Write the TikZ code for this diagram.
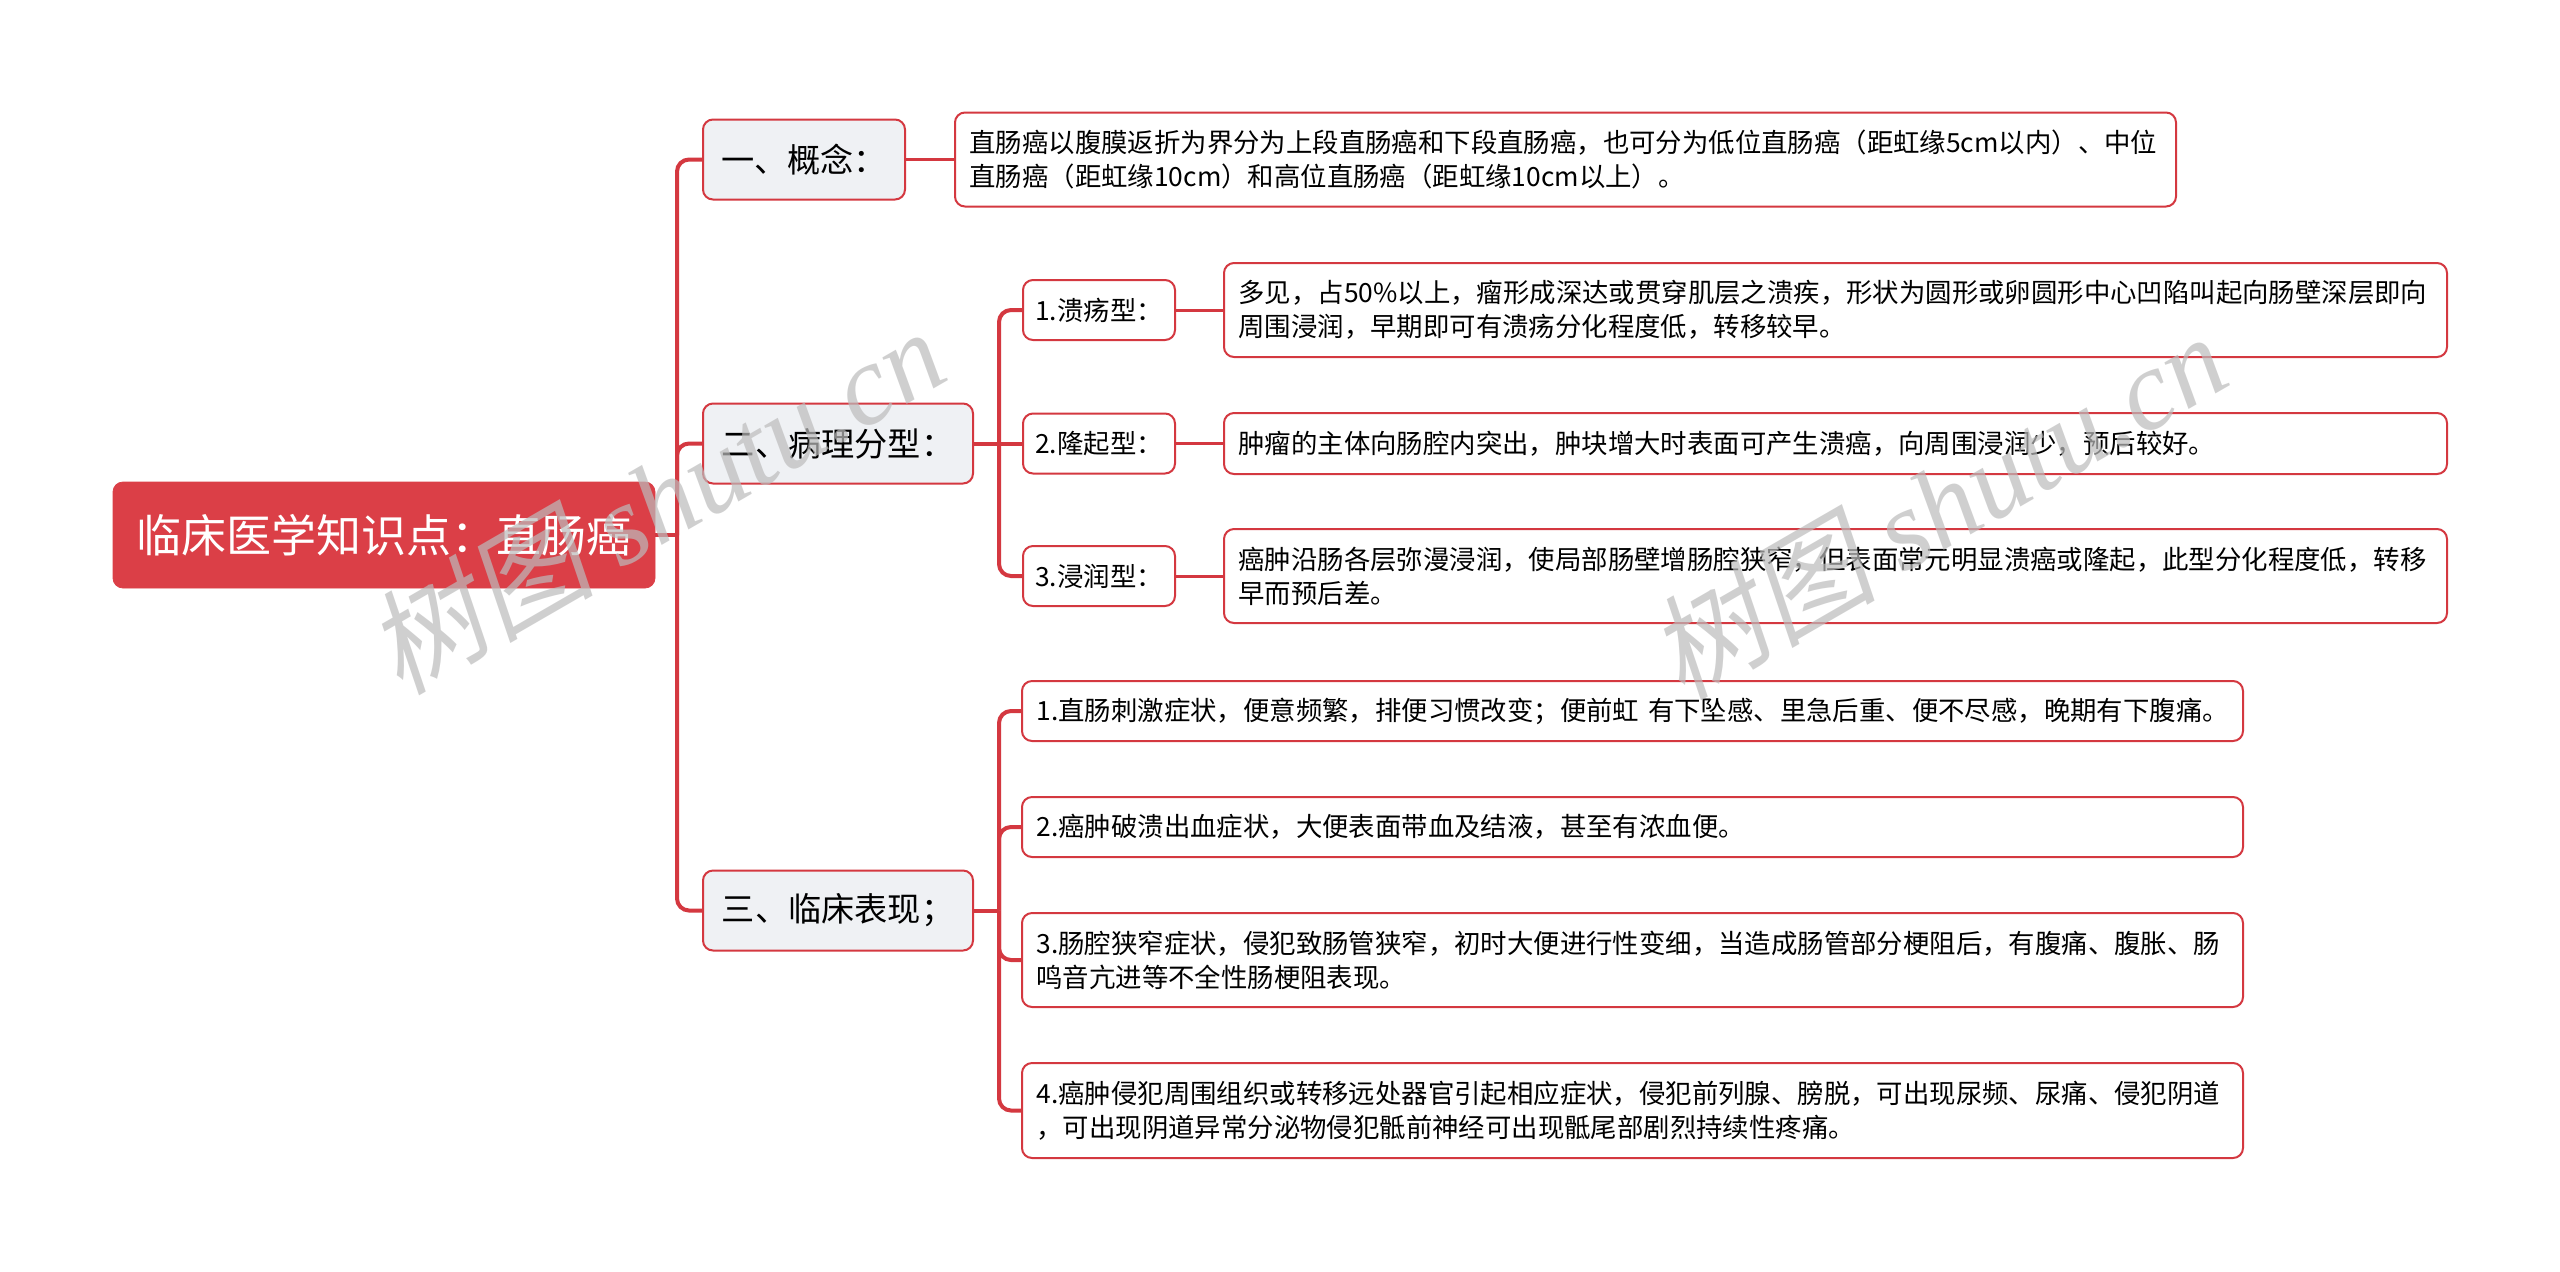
\documentclass[tikz,border=0pt]{standalone}
\usepackage{fontspec}
\setmainfont{Noto Sans CJK SC}
\newfontfamily\wmcjk[FakeSlant=0.2]{Noto Sans CJK SC}
\newfontfamily\wmlat{Liberation Serif}
\definecolor{lred}{RGB}{212,56,64}
\definecolor{rootred}{RGB}{219,63,71}
\definecolor{lgray}{RGB}{239,241,244}
\definecolor{wmgray}{RGB}{188,188,188}
\begin{document}
\begin{tikzpicture}[x=0.5pt,y=-0.5pt,
  trunk/.style={draw=lred, line width=2pt, rounded corners=6pt},
  link/.style={draw=lred, line width=1.5pt},
  rootbox/.style={fill=rootred, draw=rootred, rounded corners=5pt, text=white,
    font=\fontsize{22.5}{26}\selectfont, inner sep=0pt,
    minimum width=271pt, minimum height=53pt},
  lvone/.style={fill=lgray, draw=lred, line width=1pt, rounded corners=5pt,
    font=\fontsize{16.6}{20}\selectfont, inner sep=0pt, minimum height=40pt},
  lvtwo/.style={fill=white, draw=lred, line width=1pt, rounded corners=5pt,
    font=\fontsize{13.2}{17}\selectfont, inner sep=0pt,
    minimum width=76pt, minimum height=30pt},
  leaf/.style={fill=white, draw=lred, line width=1pt, rounded corners=5pt,
    font=\fontsize{13.2}{17}\selectfont, inner xsep=7.25pt, inner ysep=0pt,
    align=left, text width=596pt},
  wm/.style={text=wmgray, opacity=0.7, inner sep=0pt}
]
\useasboundingbox (0,0) rectangle (2560,1271);
\fill[white] (0,0) rectangle (2560,1271);

% root
\node[rootbox] (root) at (384,535) {临床医学知识点：直肠癌};

% level one
\node[lvone, minimum width=101pt] (c1) at (804,159.5) {一、概念：};
\node[lvone, minimum width=135pt] (c2) at (838,443.5) {二、病理分型：};
\node[lvone, minimum width=135pt] (c3) at (838,910.5) {三、临床表现；};

% concept leaf
\node[leaf, minimum height=47pt] (a1) at (1565.5,159.5)
  {直肠癌以腹膜返折为界分为上段直肠癌和下段直肠癌，也可分为低位直肠癌（距虹缘5cm以内）、中位\\直肠癌（距虹缘10cm）和高位直肠癌（距虹缘10cm以上）。};

% pathology types
\node[lvtwo] (t1) at (1099,310) {1.溃疡型：};
\node[lvtwo] (t2) at (1099,443.5) {2.隆起型：};
\node[lvtwo] (t3) at (1099,576) {3.浸润型：};

\node[leaf, text width=597pt, minimum height=47pt] (d1) at (1835.5,310)
  {多见，占50\%以上，瘤形成深达或贯穿肌层之溃疾，形状为圆形或卵圆形中心凹陷叫起向肠壁深层即向\\周围浸润，早期即可有溃疡分化程度低，转移较早。};
\node[leaf, text width=597pt, minimum height=30.5pt] (d2) at (1835.5,443.5)
  {肿瘤的主体向肠腔内突出，肿块增大时表面可产生溃癌，向周围浸润少，预后较好。};
\node[leaf, text width=597pt, minimum height=47pt] (d3) at (1835.5,576)
  {癌肿沿肠各层弥漫浸润，使局部肠壁增肠腔狭窄，但表面常元明显溃癌或隆起，此型分化程度低，转移\\早而预后差。};

% clinical manifestations
\node[leaf, minimum height=30pt] (e1) at (1632.5,711)
  {1.直肠刺激症状，便意频繁，排便习惯改变；便前虹 有下坠感、里急后重、便不尽感，晚期有下腹痛。};
\node[leaf, minimum height=30pt] (e2) at (1632.5,827)
  {2.癌肿破溃出血症状，大便表面带血及结液，甚至有浓血便。};
\node[leaf, minimum height=47pt] (e3) at (1632.5,960)
  {3.肠腔狭窄症状，侵犯致肠管狭窄，初时大便进行性变细，当造成肠管部分梗阻后，有腹痛、腹胀、肠\\鸣音亢进等不全性肠梗阻表现。};
\node[leaf, minimum height=47.5pt] (e4) at (1632.5,1110.5)
  {4.癌肿侵犯周围组织或转移远处器官引起相应症状，侵犯前列腺、膀脱，可出现尿频、尿痛、侵犯阴道\\，可出现阴道异常分泌物侵犯骶前神经可出现骶尾部剧烈持续性疼痛。};

% connectors
\coordinate (j0) at (677,535);
\coordinate (j1) at (999,443.5);
\coordinate (j2) at (999,910.5);

\draw[trunk] (root.east) -- (j0);
\draw[trunk] (j0) |- (c1.west);
\draw[trunk] (j0) |- (c2.west);
\draw[trunk] (j0) |- (c3.west);

\draw[link] (c1.east) -- (a1.west);

\draw[trunk] (c2.east) -- (j1);
\draw[trunk] (j1) |- (t1.west);
\draw[trunk] (j1) -- (t2.west);
\draw[trunk] (j1) |- (t3.west);
\draw[link] (t1.east) -- (d1.west);
\draw[link] (t2.east) -- (d2.west);
\draw[link] (t3.east) -- (d3.west);

\draw[trunk] (c3.east) -- (j2);
\draw[trunk] (j2) |- (e1.west);
\draw[trunk] (j2) |- (e2.west);
\draw[trunk] (j2) |- (e3.west);
\draw[trunk] (j2) |- (e4.west);

% watermarks
\node[wm, rotate=30] (w1) at (655,500)
  {\fontsize{57}{60}\selectfont\wmcjk 树图 \wmlat\itshape shutu.cn};
\node[wm, rotate=30] (w2) at (1937,505)
  {\fontsize{57}{60}\selectfont\wmcjk 树图 \wmlat\itshape shutu.cn};
\end{tikzpicture}
\end{document}
